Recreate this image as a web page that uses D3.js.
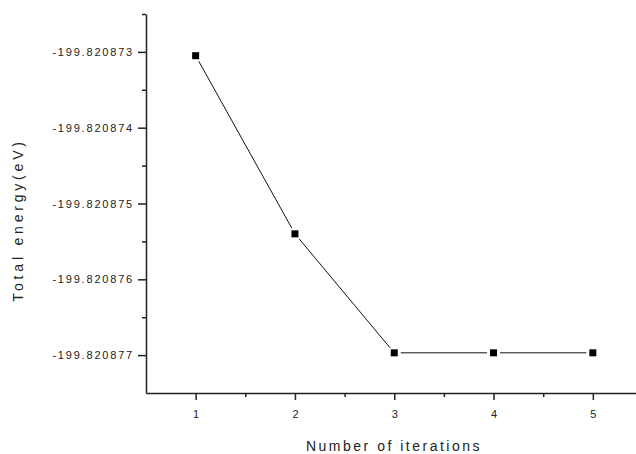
<!DOCTYPE html>
<html>
<head>
<meta charset="utf-8">
<script src="https://cdn.jsdelivr.net/npm/d3@7"></script>
<style>
  body { margin: 0; background: #fff; }
  text { font-family: "Liberation Sans", Arial, sans-serif; fill: #222; }
</style>
</head>
<body>
<div id="chart"></div>
<script>
let iterations = [1, 2, 3, 4, 5];
let energy = [-199.82087305, -199.8208754, -199.82087697, -199.82087697, -199.82087697];
let yTicks = [-199.820873, -199.820874, -199.820875, -199.820876, -199.820877];
let yMinorTicks = [-199.8208725, -199.8208735, -199.8208745, -199.8208755, -199.8208765];
let xTicks = [1, 2, 3, 4, 5];
let xMinorTicks = [1.5, 2.5, 3.5, 4.5];

let width = 636, height = 454;

let svg = d3.select("#chart")
    .append("svg")
    .attr("width", width)
    .attr("height", height);

let x = d3.scaleLinear().domain([0.5, 5.5]).range([146, 642.5]);
let y = d3.scaleLinear().domain([-199.8208775, -199.8208725]).range([393, 14]);

// minor ticks first
svg.append("g")
    .attr("transform", "translate(146,0)")
    .call(d3.axisLeft(y).tickValues(yMinorTicks).tickSize(4).tickFormat(""))
    .call(g => g.select(".domain").remove())
    .call(g => g.selectAll("line").attr("stroke", "#222").attr("stroke-width", 1.5));

svg.append("g")
    .attr("transform", "translate(0,393)")
    .call(d3.axisBottom(x).tickValues(xMinorTicks).tickSize(4).tickFormat(""))
    .call(g => g.select(".domain").remove())
    .call(g => g.selectAll("line").attr("stroke", "#222").attr("stroke-width", 1.5));

let yAxis = svg.append("g")
    .attr("transform", "translate(146,0)")
    .call(d3.axisLeft(y).tickValues(yTicks).tickSize(8).tickSizeOuter(0).tickPadding(4)
        .tickFormat(d => d.toFixed(6)));
yAxis.select(".domain").attr("stroke", "#222").attr("stroke-width", 1.5);
yAxis.selectAll("line").attr("stroke", "#222").attr("stroke-width", 1.5);
yAxis.selectAll("text")
    .style("font-size", "11px")
    .style("letter-spacing", "1.8px")
    .style("font-family", "'Liberation Sans', Arial, sans-serif")
    .attr("fill", "#222");

let xAxis = svg.append("g")
    .attr("transform", "translate(0,393)")
    .call(d3.axisBottom(x).tickValues(xTicks).tickSize(7).tickSizeOuter(0).tickPadding(10)
        .tickFormat(d3.format("d")));
xAxis.select(".domain").attr("stroke", "#222").attr("stroke-width", 1.5);
xAxis.selectAll("line").attr("stroke", "#222").attr("stroke-width", 1.5);
xAxis.selectAll("text")
    .style("font-size", "11px")
    .style("font-family", "'Liberation Sans', Arial, sans-serif")
    .attr("fill", "#222");

// line segments with small gaps at the markers
let pts = iterations.map((d, i) => [x(d), y(energy[i])]);
let gap = 6.5;
let segs = d3.pairs(pts).map(([a, b]) => {
    let dx = b[0] - a[0], dy = b[1] - a[1];
    let len = Math.sqrt(dx * dx + dy * dy);
    let ux = dx / len, uy = dy / len;
    return [a[0] + ux * gap, a[1] + uy * gap, b[0] - ux * gap, b[1] - uy * gap];
});

svg.selectAll(".seg")
    .data(segs)
    .enter().append("line")
    .attr("x1", d => d[0])
    .attr("y1", d => d[1])
    .attr("x2", d => d[2])
    .attr("y2", d => d[3])
    .attr("stroke", "#111")
    .attr("stroke-width", 1);

let s = 7;
svg.selectAll(".pt")
    .data(iterations)
    .enter().append("rect")
    .attr("x", d => x(d) - s / 2)
    .attr("y", (d, i) => y(energy[i]) - s / 2)
    .attr("width", s)
    .attr("height", s)
    .attr("fill", "#000");

svg.append("text")
    .attr("x", 394)
    .attr("y", 451)
    .attr("text-anchor", "middle")
    .style("font-size", "14px")
    .style("letter-spacing", "2.5px")
    .text("Number of iterations");

svg.append("text")
    .attr("transform", "translate(23,220) rotate(-90)")
    .attr("text-anchor", "middle")
    .style("font-size", "14px")
    .style("letter-spacing", "3.8px")
    .text("Total energy(eV)");
</script>
</body>
</html>
